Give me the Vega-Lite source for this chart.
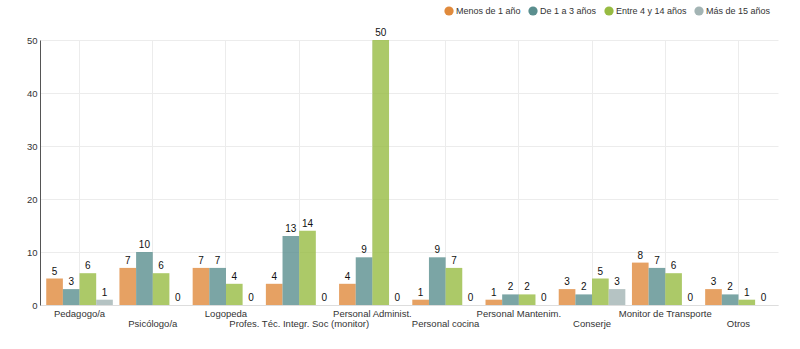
{
  "$schema": "https://vega.github.io/schema/vega-lite/v6.json",
  "width": 738,
  "height": 265,
  "autosize": {"type": "none"},
  "padding": {"left": 40, "top": 40, "right": 22, "bottom": 44},
  "background": "white",
  "config": {
    "font": "Liberation Sans",
    "view": {"stroke": null},
    "text": {"font": "Liberation Sans"},
    "axis": {"labelFont": "Liberation Sans", "labelFontSize": 9.5, "labelColor": "#333", "title": null},
    "legend": {"labelFont": "Liberation Sans"}
  },
  "data": {
    "values": [
      {"cat": "Pedagogo/a", "serie": "Menos de 1 año", "v": 5},
      {"cat": "Pedagogo/a", "serie": "De 1 a 3 años", "v": 3},
      {"cat": "Pedagogo/a", "serie": "Entre 4 y 14 años", "v": 6},
      {"cat": "Pedagogo/a", "serie": "Más de 15 años", "v": 1},
      {"cat": "Psicólogo/a", "serie": "Menos de 1 año", "v": 7},
      {"cat": "Psicólogo/a", "serie": "De 1 a 3 años", "v": 10},
      {"cat": "Psicólogo/a", "serie": "Entre 4 y 14 años", "v": 6},
      {"cat": "Psicólogo/a", "serie": "Más de 15 años", "v": 0},
      {"cat": "Logopeda", "serie": "Menos de 1 año", "v": 7},
      {"cat": "Logopeda", "serie": "De 1 a 3 años", "v": 7},
      {"cat": "Logopeda", "serie": "Entre 4 y 14 años", "v": 4},
      {"cat": "Logopeda", "serie": "Más de 15 años", "v": 0},
      {"cat": "Profes. Téc. Integr. Soc (monitor)", "serie": "Menos de 1 año", "v": 4},
      {"cat": "Profes. Téc. Integr. Soc (monitor)", "serie": "De 1 a 3 años", "v": 13},
      {"cat": "Profes. Téc. Integr. Soc (monitor)", "serie": "Entre 4 y 14 años", "v": 14},
      {"cat": "Profes. Téc. Integr. Soc (monitor)", "serie": "Más de 15 años", "v": 0},
      {"cat": "Personal Administ.", "serie": "Menos de 1 año", "v": 4},
      {"cat": "Personal Administ.", "serie": "De 1 a 3 años", "v": 9},
      {"cat": "Personal Administ.", "serie": "Entre 4 y 14 años", "v": 50},
      {"cat": "Personal Administ.", "serie": "Más de 15 años", "v": 0},
      {"cat": "Personal cocina", "serie": "Menos de 1 año", "v": 1},
      {"cat": "Personal cocina", "serie": "De 1 a 3 años", "v": 9},
      {"cat": "Personal cocina", "serie": "Entre 4 y 14 años", "v": 7},
      {"cat": "Personal cocina", "serie": "Más de 15 años", "v": 0},
      {"cat": "Personal Mantenim.", "serie": "Menos de 1 año", "v": 1},
      {"cat": "Personal Mantenim.", "serie": "De 1 a 3 años", "v": 2},
      {"cat": "Personal Mantenim.", "serie": "Entre 4 y 14 años", "v": 2},
      {"cat": "Personal Mantenim.", "serie": "Más de 15 años", "v": 0},
      {"cat": "Conserje", "serie": "Menos de 1 año", "v": 3},
      {"cat": "Conserje", "serie": "De 1 a 3 años", "v": 2},
      {"cat": "Conserje", "serie": "Entre 4 y 14 años", "v": 5},
      {"cat": "Conserje", "serie": "Más de 15 años", "v": 3},
      {"cat": "Monitor de Transporte", "serie": "Menos de 1 año", "v": 8},
      {"cat": "Monitor de Transporte", "serie": "De 1 a 3 años", "v": 7},
      {"cat": "Monitor de Transporte", "serie": "Entre 4 y 14 años", "v": 6},
      {"cat": "Monitor de Transporte", "serie": "Más de 15 años", "v": 0},
      {"cat": "Otros", "serie": "Menos de 1 año", "v": 3},
      {"cat": "Otros", "serie": "De 1 a 3 años", "v": 2},
      {"cat": "Otros", "serie": "Entre 4 y 14 años", "v": 1},
      {"cat": "Otros", "serie": "Más de 15 años", "v": 0}
    ]
  },
  "encoding": {
    "x": {
      "field": "cat", "type": "nominal", "sort": null,
      "scale": {"paddingInner": 0.09, "paddingOuter": 0.085},
      "axis": {
        "labelAngle": 0, "ticks": false, "domainColor": "#dddddd", "gridColor": "#ececec", "grid": true,
        "bandPosition": 0.5, "labelPadding": 3, "labelLineHeight": 10, "labelBaseline": "top",
        "labelExpr": "indexof(['Psicólogo/a','Profes. Téc. Integr. Soc (monitor)','Personal cocina','Conserje','Otros'], datum.label) >= 0 ? ['', datum.label] : datum.label"
      }
    },
    "xOffset": {
      "field": "serie", "type": "nominal", "sort": null,
      "scale": {"paddingInner": 0, "paddingOuter": 0}
    },
    "y": {
      "field": "v", "type": "quantitative",
      "scale": {"domain": [0, 50], "nice": false},
      "axis": {"values": [0, 10, 20, 30, 40, 50], "ticks": false, "domainColor": "#555555", "gridColor": "#ececec", "labelPadding": 3}
    }
  },
  "layer": [
    {
      "mark": {"type": "bar", "opacity": 0.8},
      "encoding": {
        "color": {
          "field": "serie", "type": "nominal", "sort": null,
          "scale": {
            "domain": ["Menos de 1 año", "De 1 a 3 años", "Entre 4 y 14 años", "Más de 15 años"],
            "range": ["#E08A3C", "#5A8E8E", "#97BB42", "#A3B4B4"]
          },
          "legend": {
            "title": null, "orient": "none", "direction": "horizontal",
            "legendX": 404, "legendY": -34,
            "symbolType": "circle", "symbolSize": 85, "symbolOpacity": 1, "symbolStrokeWidth": 0,
            "labelFontSize": 9, "labelColor": "#333", "labelFont": "Liberation Sans",
            "labelOffset": 2, "columnPadding": 7
          }
        }
      }
    },
    {
      "mark": {"type": "text", "baseline": "bottom", "dy": -2, "fontSize": 10, "color": "#111", "font": "Liberation Sans"},
      "encoding": {"text": {"field": "v", "type": "quantitative"}}
    }
  ]
}
